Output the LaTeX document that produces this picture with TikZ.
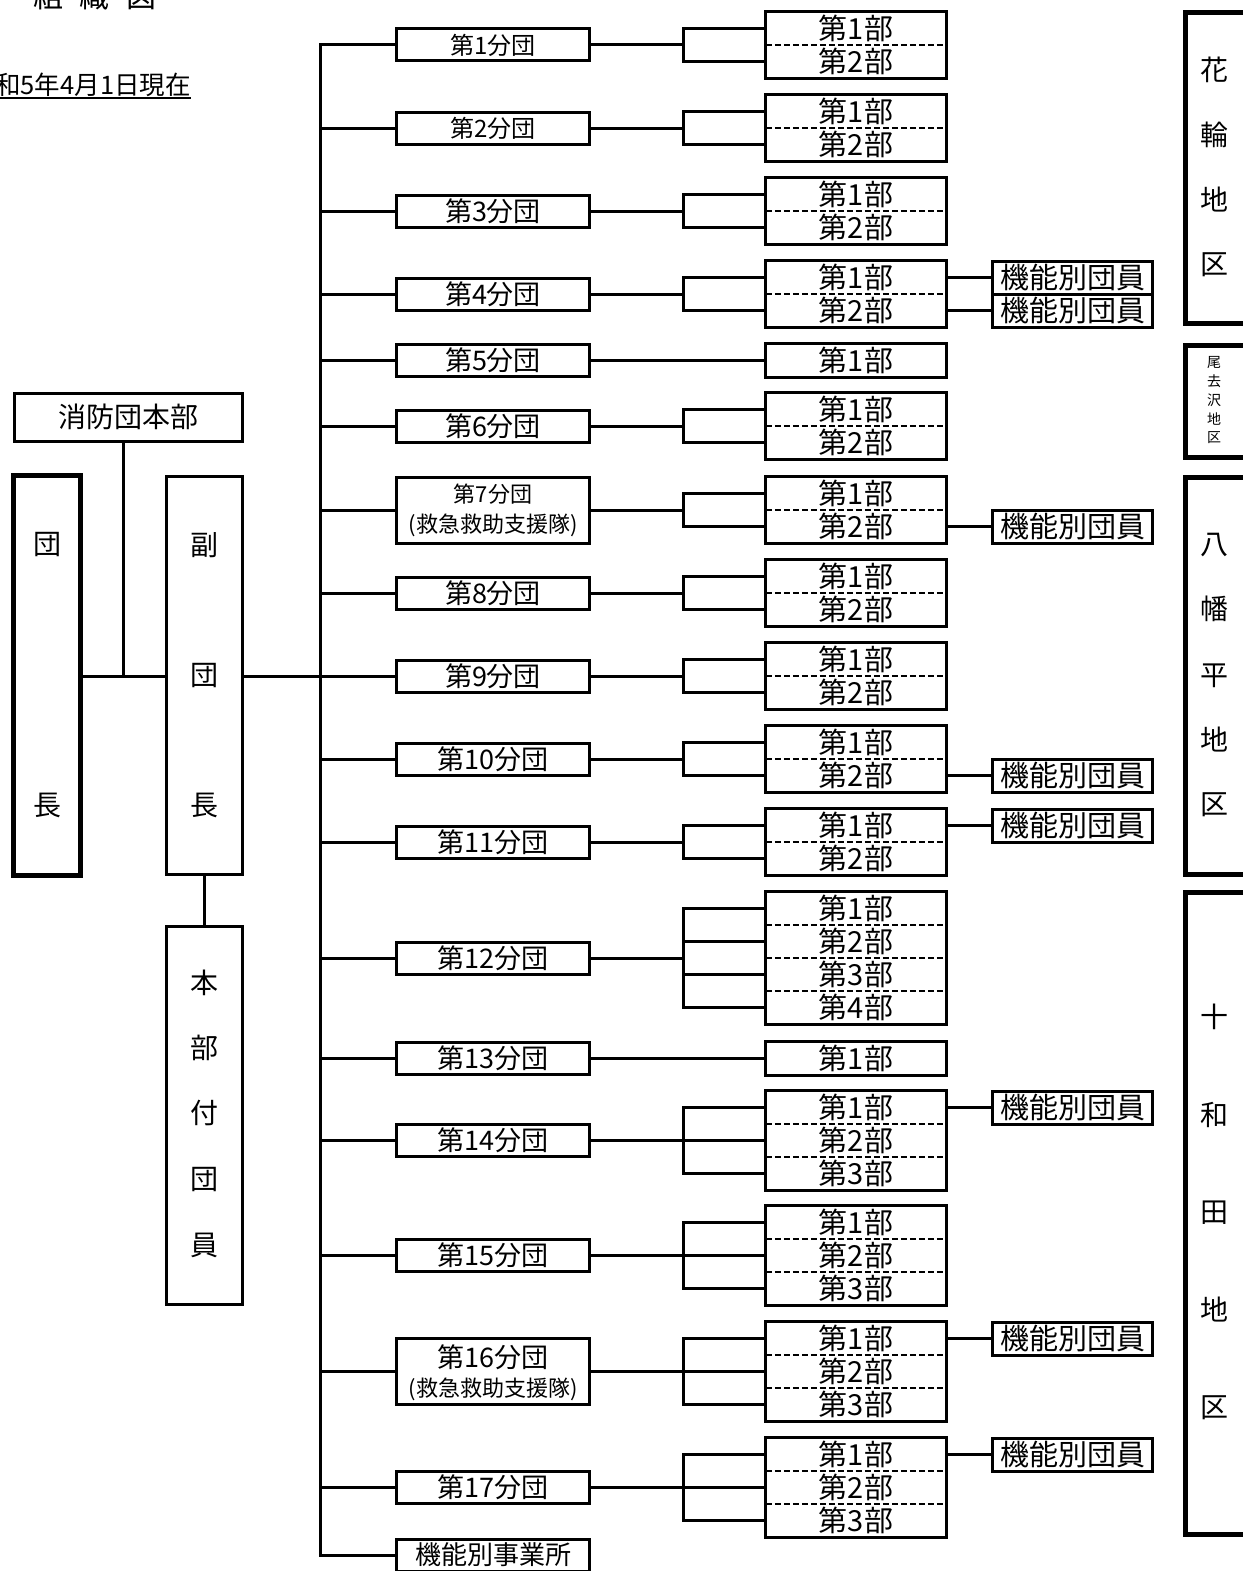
\documentclass[tikz,border=0pt]{standalone}
\usepackage{fontspec}
\setmainfont{Noto Sans CJK JP}
\newcommand\jfs[1]{\fontsize{#1}{#1}\selectfont}
\begin{document}
\begin{tikzpicture}[x=1pt,y=-1pt,
  ln/.style={line width=3pt},
  dsh/.style={line width=2pt,dash pattern=on 6pt off 3pt},
  ubox/.style={draw,line width=3pt,minimum width=193pt,minimum height=32pt,inner sep=0pt,font={\jfs{27}}},
  row/.style={minimum width=180pt,minimum height=33pt,inner sep=0pt,font={\jfs{29}}},
  kbox/.style={draw,line width=3pt,minimum width=160pt,minimum height=33pt,inner sep=0pt,font={\jfs{29}}},
  tbox/.style={draw,line width=5pt,inner sep=0pt},
  vbox/.style={draw,line width=3pt,inner sep=0pt},
  ch/.style={inner sep=0pt,font={\jfs{28}}},
  sch/.style={inner sep=0pt,font={\jfs{14}}}]
\useasboundingbox (0,0) rectangle (1242,1571);
\fill[white] (0,0) rectangle (1242,1571);

% title and date
\node[inner sep=0pt,font={\jfs{30}}] (title) at (95,-4) {組\hspace{17pt}織\hspace{17pt}図};
\node[anchor=base east,inner sep=0pt,font={\jfs{25.5}}] (date) at (191,94) {令和5年4月1日現在};
\draw[line width=2pt] ([yshift=-3.5pt]date.base west) -- ([yshift=-3.5pt]date.base east);

% left column
\node[vbox,minimum width=228pt,minimum height=48pt,font={\jfs{28}}] (honbu) at (128,417) {消防団本部};
\node[tbox,minimum width=67pt,minimum height=400pt] (dancho) at (47,675.5) {};
\node[ch] (dc1) at (47,545) {団};
\node[ch] (dc2) at (47,805) {長};
\node[vbox,minimum width=76pt,minimum height=398pt] (fuku) at (204,675.5) {};
\node[ch] (fk1) at (204,545) {副};
\node[ch] (fk2) at (204,676) {団};
\node[ch] (fk3) at (204,805) {長};
\node[vbox,minimum width=76pt,minimum height=378pt] (hbf) at (204,1115) {};
\node[ch] (hb1) at (204,983) {本};
\node[ch] (hb2) at (204,1048) {部};
\node[ch] (hb3) at (204,1113) {付};
\node[ch] (hb4) at (204,1180) {団};
\node[ch] (hb5) at (204,1245) {員};

\coordinate (hj) at (123,676);
\coordinate (tr) at (320,676);
\draw[ln] (hj |- honbu.south) -- (hj);
\draw[ln] (dancho.east |- hj) -- (fuku.west |- hj);
\draw[ln] (fuku.east |- tr) -- (tr);
\draw[ln] (fuku.south) -- (hbf.north);

% units
\node[ubox,font={\jfs{24}}] (u1) at (493,45) {第1分団};
\node[ubox,font={\jfs{24}}] (u2) at (493,128) {第2分団};
\foreach \i/\y in {3/211,4/294,5/360.5,6/426,8/593,9/676,10/759,11/842,12/958,13/1058.5,14/1140.5,15/1255.5,17/1487.5}{
  \node[ubox] (u\i) at (493,\y) {第\i 分団};
}
\node[ubox,minimum height=66pt] (u7) at (493,510) {};
\node[inner sep=0pt,font={\jfs{22}}] (u7a) at (493,494) {第7分団};
\node[inner sep=0pt,font={\jfs{22}}] (u7b) at (493,525) {(救急救助支援隊)};
\node[ubox,minimum height=66pt] (u16) at (493,1371.5) {};
\node[inner sep=0pt,font={\jfs{27}}] (u16a) at (493,1357) {第16分団};
\node[inner sep=0pt,font={\jfs{22}}] (u16b) at (493,1389) {(救急救助支援隊)};
\node[ubox,font={\jfs{26}}] (jb) at (493,1555) {機能別事業所};

% trunk
\draw[ln] (u1.west) -- (u1.west -| tr) -- (jb.west -| tr) -- (jb.west);
\foreach \i in {2,...,17}{
  \draw[ln] (u\i.west -| tr) -- (u\i.west);
}

% sub groups
\foreach \i/\t/\n in {1/12/2,2/95/2,3/178/2,4/261/2,5/344/1,6/393/2,7/477/2,8/560/2,9/643/2,10/726/2,11/809/2,12/892/4,13/1042/1,14/1091/3,15/1206/3,16/1322/3,17/1438/3}{
  \foreach \j in {1,...,\n}{
    \node[row] (g\i-\j) at (856,{\t+(\j-0.5)*33}) {第\j 部};
  }
  \draw[ln] (g\i-1.north west) rectangle (g\i-\n.south east);
  \ifnum\n>1
    \pgfmathtruncatemacro\m{\n-1}
    \foreach \j in {1,...,\m}{
      \draw[dsh] (g\i-\j.south west) -- (g\i-\j.south east);
    }
    \coordinate (b\i) at (683,{\t+\n*16.5});
    \draw[ln] (u\i.east) -- (b\i);
    \draw[ln] (g\i-1.west) -- (b\i |- g\i-1) -- (b\i |- g\i-\n) -- (g\i-\n.west);
    \foreach \j in {1,...,\n}{
      \draw[ln] (b\i |- g\i-\j) -- (g\i-\j.west);
    }
  \else
    \draw[ln] (u\i.east) -- (g\i-1.west);
  \fi
}

% functional members
\foreach \k/\g in {1/4-1,2/4-2,3/7-2,4/10-2,5/11-1,6/14-1,7/16-1,8/17-1}{
  \node[kbox] (k\k) at (g\g.center -| 1072.5,0) {機能別団員};
  \draw[ln] (g\g.east) -- (k\k.west);
}

% regions
\node[tbox,minimum width=80pt,minimum height=311pt] (r1) at (1225.5,168) {};
\foreach \c/\y [count=\q] in {花/70,輪/135,地/200,区/265}{
  \node[ch] (r1c\q) at (1214,\y) {\c};
}
\node[tbox,minimum width=80pt,minimum height=112pt] (r2) at (1225.5,401.5) {};
\foreach \c/\y [count=\q] in {尾/362,去/381,沢/400,地/419,区/438}{
  \node[sch] (r2c\q) at (1214,\y) {\c};
}
\node[tbox,minimum width=80pt,minimum height=397pt] (r3) at (1225.5,676) {};
\foreach \c/\y [count=\q] in {八/545,幡/609,平/676,地/740,区/805}{
  \node[ch] (r3c\q) at (1214,\y) {\c};
}
\node[tbox,minimum width=80pt,minimum height=642pt] (r4) at (1225.5,1213.5) {};
\foreach \c/\y [count=\q] in {十/1017,和/1115,田/1213,地/1310,区/1408}{
  \node[ch] (r4c\q) at (1214,\y) {\c};
}
\end{tikzpicture}
\end{document}
